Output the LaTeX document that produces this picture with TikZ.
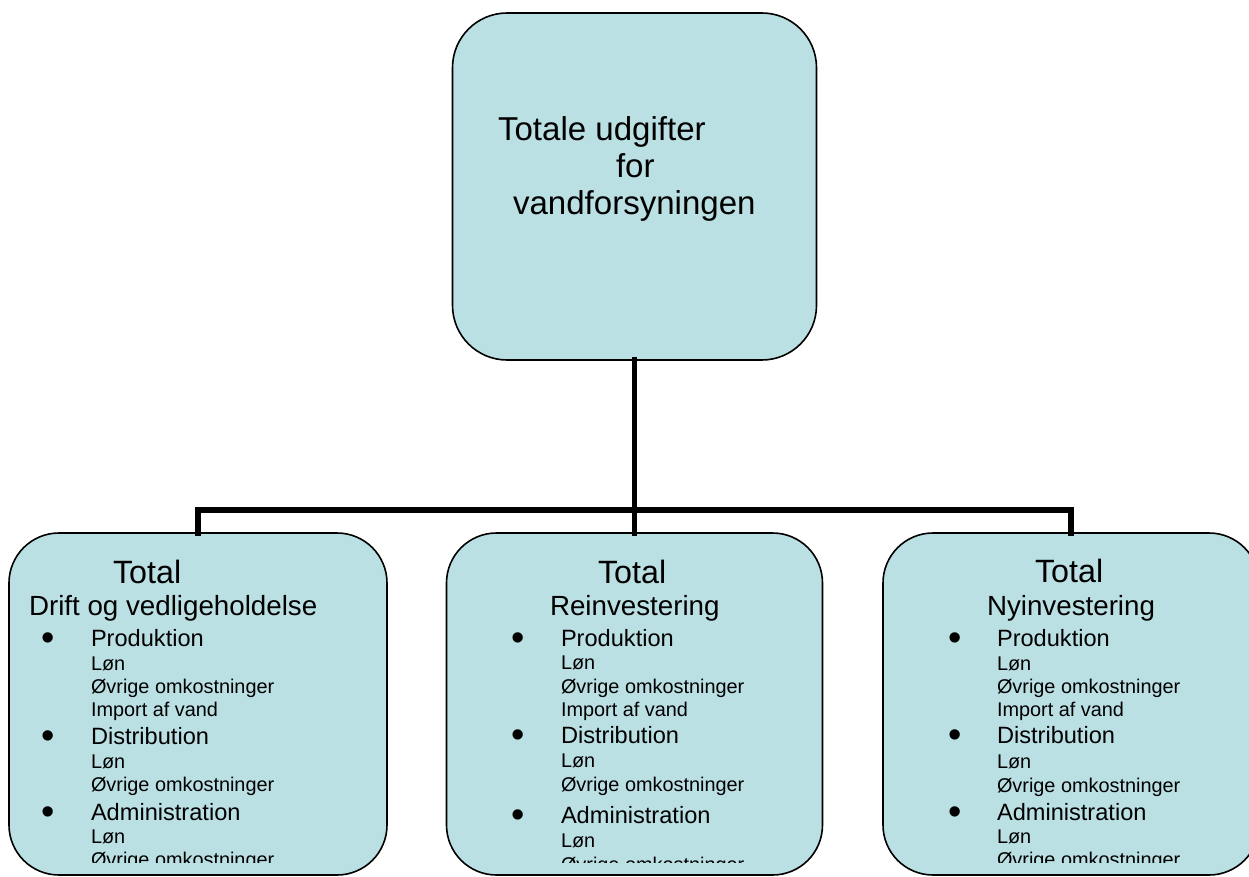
\documentclass[tikz,border=0pt]{standalone}
\usepackage{fontspec}
\setmainfont{Liberation Sans}
\definecolor{boxfill}{HTML}{BBE0E3}
\tikzset{
  box/.style={draw=black, fill=boxfill, line width=1.2pt, rounded corners=#1, inner sep=0pt, outer sep=0pt},
  conn/.style={draw=black, line width=4pt, line join=miter, line cap=rect},
  txt/.style={anchor=base west, inner sep=0pt, outer sep=0pt, text=black},
  ttop/.style={txt, font=\fontsize{24.8pt}{30pt}\selectfont},
  ttot/.style={txt, font=\fontsize{24.2pt}{29pt}\selectfont},
  tsub/.style={txt, font=\fontsize{20.8pt}{25pt}\selectfont},
  thead/.style={txt, font=\fontsize{17.7pt}{21pt}\selectfont},
  titem/.style={txt, font=\fontsize{14.9pt}{18pt}\selectfont},
  bul/.style={anchor=center, inner sep=0pt, outer sep=0pt, font=\fontsize{28.5pt}{30pt}\selectfont},
}
\begin{document}
\begin{tikzpicture}[x=0.75pt, y=-0.75pt]
\clip (0,0) rectangle (1249,877);
\fill[white] (0,0) rectangle (1249,877);

% boxes
\node[box=41pt, minimum width=273pt, minimum height=260.25pt] (top) at (634.5,186.5) {};
\node[box=37.5pt, minimum width=283.5pt, minimum height=256.5pt] (L) at (198,704) {};
\node[box=37.5pt, minimum width=282pt, minimum height=256.5pt] (M) at (634.5,704) {};
\node[box=37.5pt, minimum width=282pt, minimum height=256.5pt] (R) at (1071,704) {};

% connectors
\coordinate (hub) at (634.5,510);
\draw[conn] (top.south) -- (M.north);
\draw[conn] (L.north) |- (hub);
\draw[conn] (R.north) |- (hub);

% top box text
\node[ttop] (t1) at (498,141) {Totale udgifter};
\node[ttop] (t2) at (616,178) {for};
\node[ttop] (t3) at (513,215) {vandforsyningen};

% left box
\node[ttot] (l0) at (113,583) {Total};
\node[tsub] (l1) at (29,615) {Drift og vedligeholdelse};
\node[bul] (lb1) at (48,642) {•};
\node[thead] (l2) at (91,646) {Produktion};
\node[titem] (l3) at (91,670) {Løn};
\node[titem] (l4) at (91,693) {Øvrige omkostninger};
\node[titem] (l5) at (91,716) {Import af vand};
\node[bul] (lb2) at (48,740) {•};
\node[thead] (l6) at (91,744) {Distribution};
\node[titem] (l7) at (91,768) {Løn};
\node[titem] (l8) at (91,791) {Øvrige omkostninger};
\node[bul] (lb3) at (48,816) {•};
\node[thead] (l9) at (91,820) {Administration};
\node[titem] (l10) at (91,843) {Løn};

% middle box
\node[ttot] (m0) at (598,583) {Total};
\node[tsub] (m1) at (550,615) {Reinvestering};
\node[bul] (mb1) at (518,642) {•};
\node[thead] (m2) at (561,646) {Produktion};
\node[titem] (m3) at (561,669) {Løn};
\node[titem] (m4) at (561,693) {Øvrige omkostninger};
\node[titem] (m5) at (561,716) {Import af vand};
\node[bul] (mb2) at (518,739) {•};
\node[thead] (m6) at (561,743) {Distribution};
\node[titem] (m7) at (561,767) {Løn};
\node[titem] (m8) at (561,791) {Øvrige omkostninger};
\node[bul] (mb3) at (518,819) {•};
\node[thead] (m9) at (561,823) {Administration};
\node[titem] (m10) at (561,847) {Løn};

% right box
\node[ttot] (r0) at (1035,582) {Total};
\node[tsub] (r1) at (987,615) {Nyinvestering};
\node[bul] (rb1) at (955,642) {•};
\node[thead] (r2) at (997,646) {Produktion};
\node[titem] (r3) at (997,670) {Løn};
\node[titem] (r4) at (997,693) {Øvrige omkostninger};
\node[titem] (r5) at (997,716) {Import af vand};
\node[bul] (rb2) at (955,739) {•};
\node[thead] (r6) at (997,743) {Distribution};
\node[titem] (r7) at (997,768) {Løn};
\node[titem] (r8) at (997,792) {Øvrige omkostninger};
\node[bul] (rb3) at (955,816) {•};
\node[thead] (r9) at (997,820) {Administration};
\node[titem] (r10) at (997,843) {Løn};

% clipped last lines
\begin{scope}
\clip (0,0) rectangle (1249,862);
\node[titem] (l11) at (91,866) {Øvrige omkostninger};
\node[titem] (m11) at (561,871) {Øvrige omkostninger};
\node[titem] (r11) at (997,866) {Øvrige omkostninger};
\end{scope}
\end{tikzpicture}
\end{document}
